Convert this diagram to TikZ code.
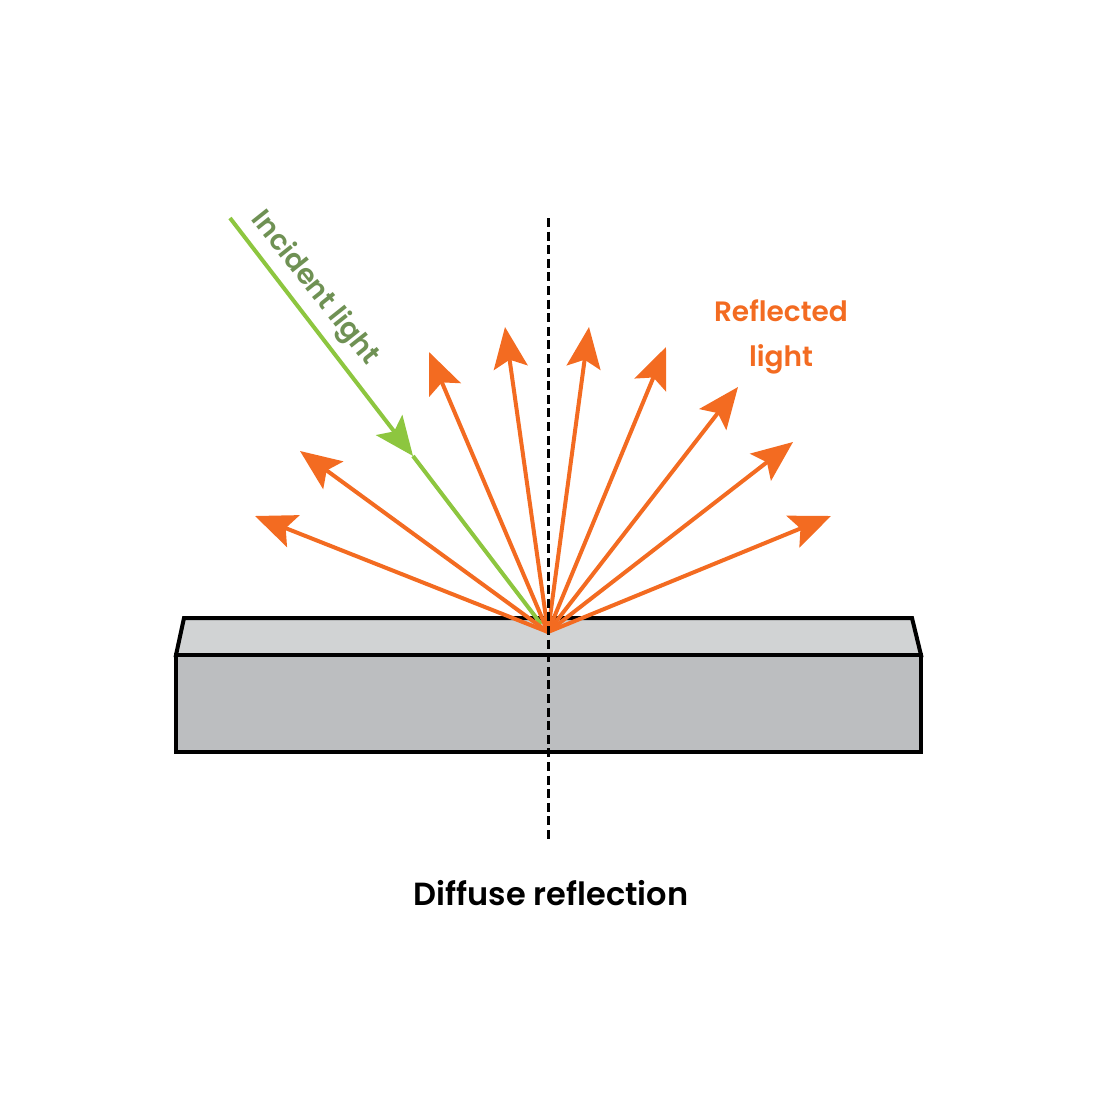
\documentclass[tikz,border=0pt]{standalone}
\usepackage{fontspec}
\setmainfont{Poppins}[UprightFont=* SemiBold]
\usetikzlibrary{arrows.meta}
\definecolor{ora}{HTML}{F36B21}
\definecolor{grn}{HTML}{8DC63F}
\definecolor{txg}{HTML}{6F9154}
\definecolor{topc}{HTML}{D1D3D4}
\definecolor{frontc}{HTML}{BCBEC0}
\tikzset{
  ray/.style={ora,line width=4pt,-{Stealth[length=41pt,width=34pt,inset=8pt]}},
  inray/.style={grn,line width=4pt},
  slab/.style={draw=black,line width=4pt,miter limit=4},
  normalline/.style={black,line width=3.6pt,dash pattern=on 9pt off 4.6pt},
  lab/.style={inner sep=0pt,align=center}
}
\begin{document}
\begin{tikzpicture}[x=1pt,y=-1pt]
\useasboundingbox (0,0) rectangle (1098,1116);
\coordinate (O) at (548,632);
\coordinate (G0) at (230,218);
\coordinate (G1) at (413,456);
\coordinate (G2) at (541,624);
\coordinate (T1) at (255,516);
\coordinate (T2) at (300,451);
\coordinate (T3) at (429,352);
\coordinate (T4) at (505,327);
\coordinate (T5) at (589,327);
\coordinate (T6) at (666,347);
\coordinate (T7) at (738,387);
\coordinate (T8) at (793,442);
\coordinate (T9) at (831,516);
\coordinate (N0) at (548.5,218);
\coordinate (N1) at (548.5,843);
\filldraw[slab,fill=topc] (184,618) -- (912,618) -- (921,655) -- (176,655) -- cycle;
\filldraw[slab,fill=frontc] (176,655) rectangle (921,752);
\draw[inray,-{Stealth[length=39pt,width=33pt,inset=8pt]}] (G0) -- (G1);
\draw[inray] (G1) -- (G2);
\foreach \t in {T1,T2,T3,T4,T5,T6,T7,T8,T9}{\draw[ray] (O) -- (\t);}
\draw[normalline] (N0) -- (N1);
\node[lab,text=txg,font=\fontsize{28}{34}\selectfont,rotate=-51.5] (inc) at (314.5,288.5) {Incident light};
\node[lab,text=ora,font=\fontsize{28}{45}\selectfont] (refl) at (781,337) {Reflected\\light};
\node[lab,text=black,font=\fontsize{32}{38}\selectfont] (cap) at (551,893) {Diffuse reflection};
\end{tikzpicture}
\end{document}
